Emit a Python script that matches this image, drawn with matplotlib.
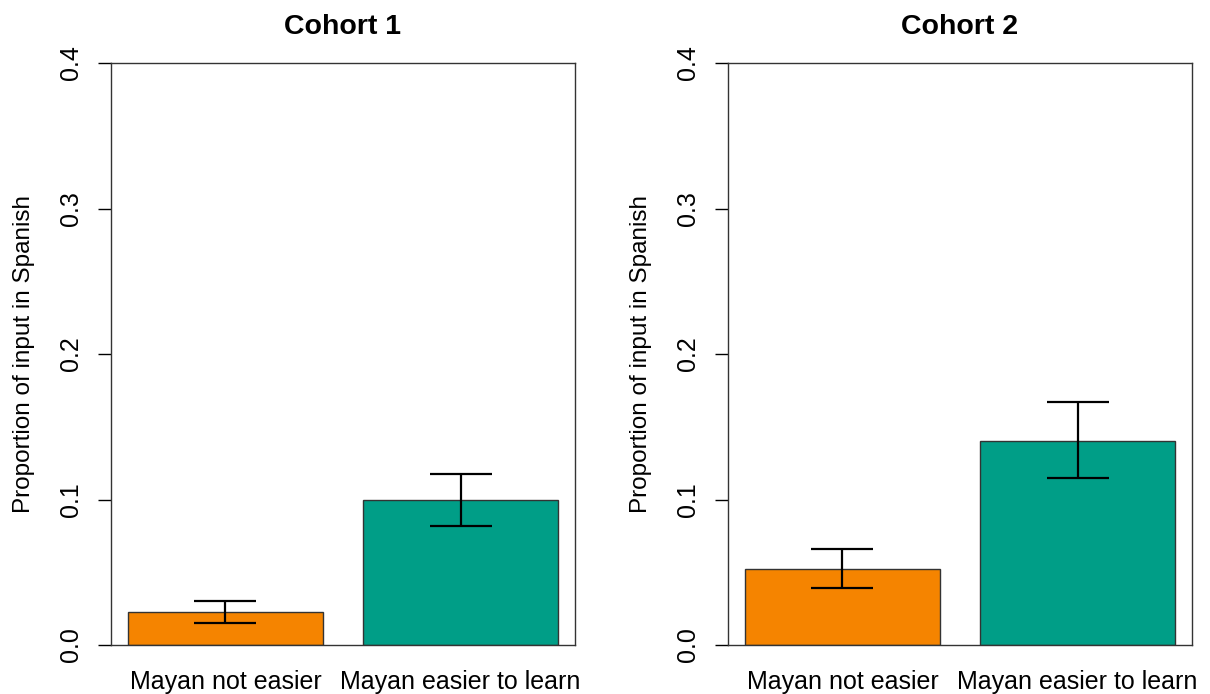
import matplotlib; matplotlib.use("Agg")
import matplotlib.pyplot as plt
import numpy as np

plt.rcParams['font.family'] = ['Liberation Sans', 'DejaVu Sans']

cohorts = ["Cohort 1", "Cohort 2"]
groups = ["Mayan not easier", "Mayan easier to learn"]
means_c1 = [0.0225, 0.0997]
lo_c1 = [0.0150, 0.0818]
hi_c1 = [0.0300, 0.1175]
means_c2 = [0.0520, 0.1400]
lo_c2 = [0.0390, 0.1148]
hi_c2 = [0.0660, 0.1668]
colors = ["#F58400", "#009E87"]
yticks = [0.0, 0.1, 0.2, 0.3, 0.4]

fig = plt.figure(figsize=(12.1, 6.94), dpi=100)
panels = [(means_c1, lo_c1, hi_c1), (means_c2, lo_c2, hi_c2)]
lefts = [111/1210, 728/1210]
x = np.array([0.0, 1.205])
for k, (m, lo, hi) in enumerate(panels):
    ax = fig.add_axes([lefts[k], 49/694, 464/1210, 582/694])
    ax.bar(x, m, width=1.0, color=colors, edgecolor="#333333", linewidth=1.0)
    m = np.array(m)
    err = np.array([m - np.array(lo), np.array(hi) - m])
    ax.errorbar(x, m, yerr=err, fmt="none", ecolor="black", elinewidth=1.6,
                capsize=22.5, capthick=1.6)
    ax.set_xlim(-0.587, 1.792)
    ax.set_ylim(0, 0.4)
    ax.set_yticks(yticks)
    ax.set_yticklabels([f"{t:.1f}" for t in yticks], rotation=90, va="center", fontsize=18)
    ax.set_xticks(x)
    ax.set_xticklabels(groups, fontsize=18)
    ax.tick_params(axis="x", length=0, pad=18)
    ax.tick_params(axis="y", length=9.5, width=1.0, pad=11)
    for s in ax.spines.values():
        s.set_linewidth(1.0)
        s.set_color("#333333")
    ax.set_ylabel("Proportion of input in Spanish", fontsize=17.5, labelpad=17)
    ax.set_title(cohorts[k], fontsize=20.5, fontweight="bold", pad=21)

fig.savefig("out.png", dpi=100)
